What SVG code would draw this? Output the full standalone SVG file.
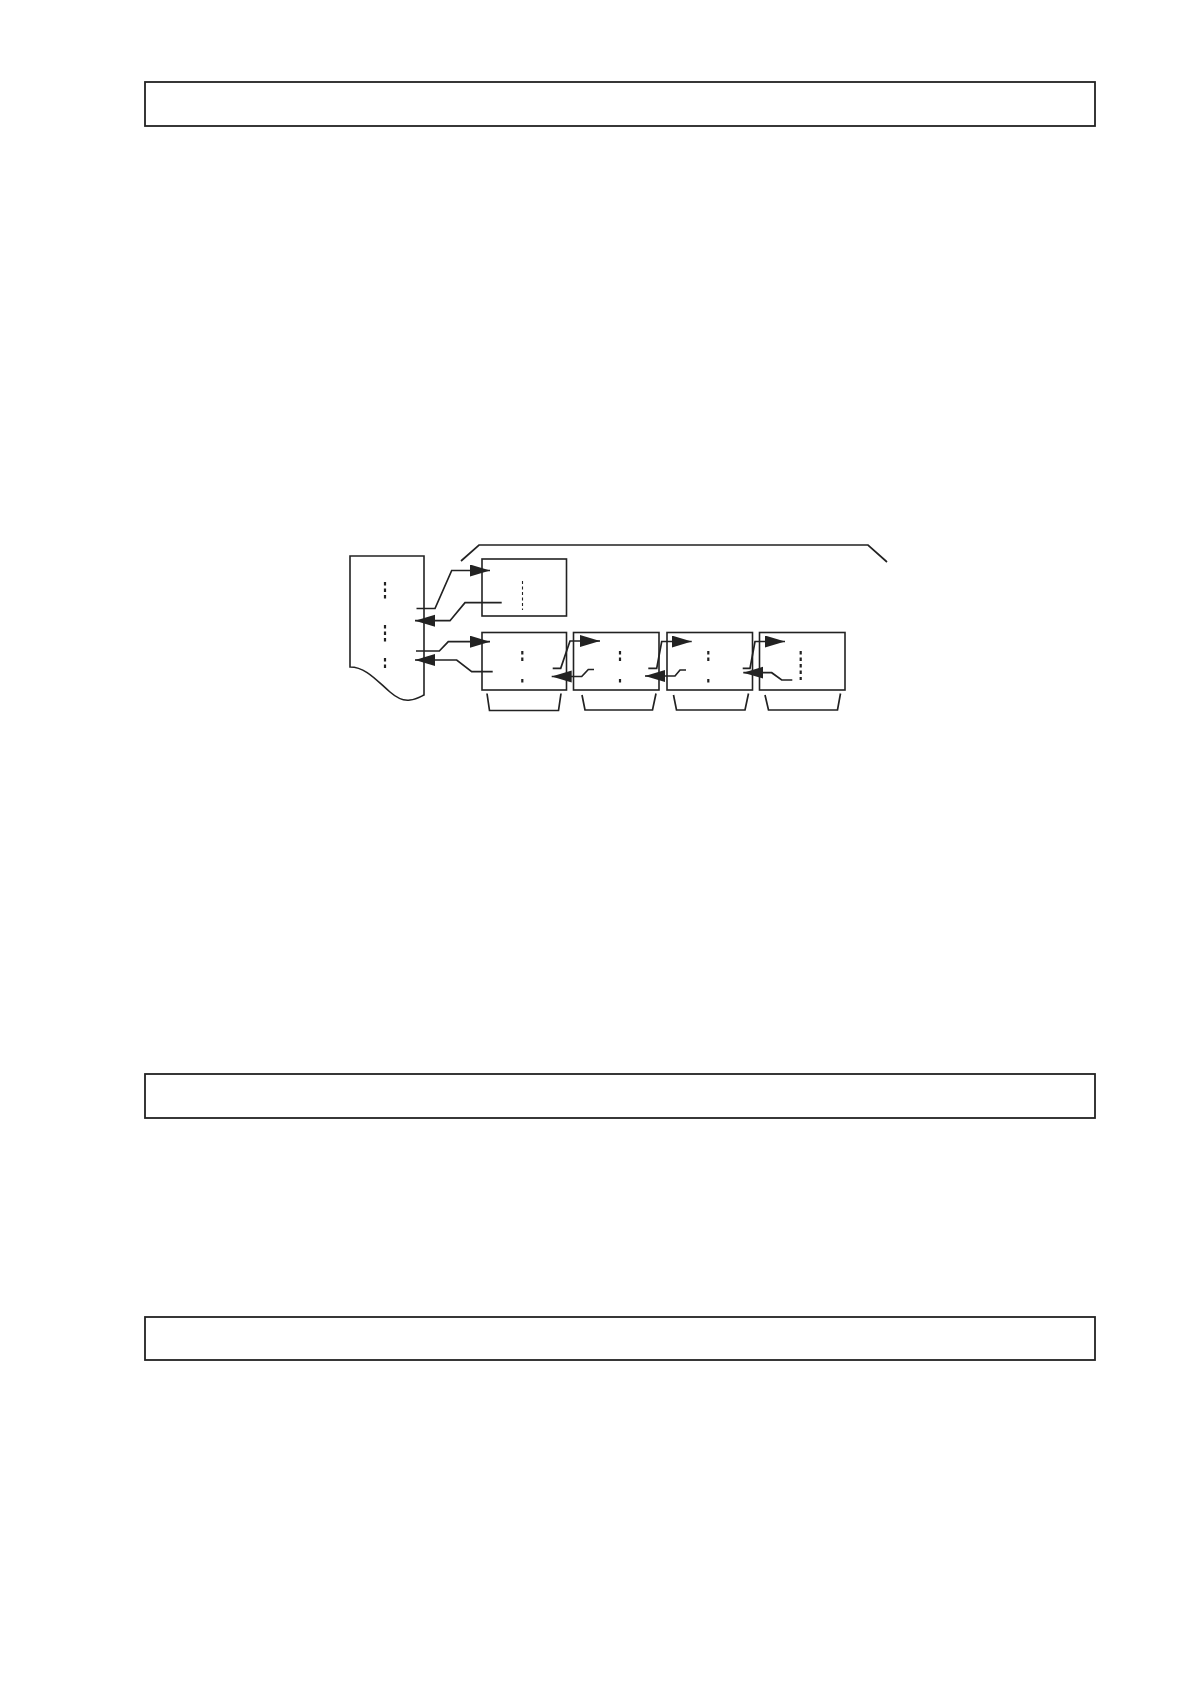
<svg xmlns="http://www.w3.org/2000/svg" width="1190" height="1684" viewBox="0 0 1190 1684">
<defs>
<style>
.hdr{fill:none;stroke:#222;stroke-width:1.8}
.box{fill:none;stroke:#222;stroke-width:1.6}
.ln{fill:none;stroke:#222;stroke-width:1.7;stroke-linejoin:miter}
.dots{fill:none;stroke:#222;stroke-width:2.2;stroke-dasharray:3.5 3}
.thin{fill:none;stroke:#222;stroke-width:1.1;stroke-dasharray:3 2.5}
.arr{marker-end:url(#ah)}
</style>
<marker id="ah" markerUnits="userSpaceOnUse" markerWidth="22" markerHeight="13" refX="20" refY="6" orient="auto">
<path d="M0,0 L20,6 L0,12 Z" fill="#222"/>
</marker>
</defs>
<rect width="1190" height="1684" fill="#fff"/>
<g id="header1"><rect class="hdr" x="145" y="82" width="950" height="44"/></g>
<g id="header2"><rect class="hdr" x="145" y="1074" width="950" height="44"/></g>
<g id="header3"><rect class="hdr" x="145" y="1317" width="950" height="43"/></g>

<g id="table">
<path class="box" d="M350,556 H424 V695 C420,697 416,699.5 410,700 C404,701 398,699 390,692 C377,681 366,667 350,667 Z"/>
<line class="dots" x1="385" y1="582" x2="385" y2="600"/>
<line class="dots" x1="385" y1="625" x2="385" y2="642"/>
<line class="dots" x1="385" y1="658" x2="385" y2="670"/>
</g>

<g id="bracket-top"><polyline class="ln" points="461,561 479,545 868,545 887,562"/></g>

<g id="upper-box">
<rect class="box" x="482" y="559" width="84.5" height="57"/>
<line class="thin" x1="522.5" y1="581" x2="522.5" y2="610"/>
</g>

<g id="box1">
<rect class="box" x="482" y="632.5" width="84.5" height="57.5"/>
<line class="dots" x1="522.3" y1="651" x2="522.3" y2="661"/>
<line class="dots" x1="522.3" y1="679" x2="522.3" y2="682.5" style="stroke-dasharray:none"/>
<polyline class="ln" points="487,693.5 489.5,710.5 558.5,710.5 561,693.5"/>
</g>
<g id="box2">
<rect class="box" x="573.5" y="632.5" width="85.5" height="57.5"/>
<line class="dots" x1="620" y1="651" x2="620" y2="661"/>
<line class="dots" x1="620" y1="679" x2="620" y2="682.5" style="stroke-dasharray:none"/>
<polyline class="ln" points="582,695 585,710 652.5,710 656,693.5"/>
</g>
<g id="box3">
<rect class="box" x="667" y="632.5" width="85.5" height="57.5"/>
<line class="dots" x1="708.3" y1="651" x2="708.3" y2="661"/>
<line class="dots" x1="708.3" y1="679" x2="708.3" y2="682.5" style="stroke-dasharray:none"/>
<polyline class="ln" points="673.5,695 676.5,710 745,710 748.5,693.5"/>
</g>
<g id="box4">
<rect class="box" x="759.5" y="632.5" width="85.5" height="57.5"/>
<line class="dots" x1="800.7" y1="651" x2="800.7" y2="680"/>
<polyline class="ln" points="765,695 768.5,710 837.5,710 840.5,693.5"/>
</g>

<g id="connectors">
<polyline class="ln arr" points="416.5,608.5 435,608.5 451.7,570.5 490,570.5"/>
<polyline class="ln arr" points="501.7,602.7 465,602.7 450,620.7 415,620.7"/>
<polyline class="ln arr" points="416,651 439.3,651 448.3,641.7 490,641.7"/>
<polyline class="ln arr" points="492.7,671.7 471.7,671.7 456.7,660 415,660"/>
<polyline class="ln arr" points="552.7,668.3 560.7,668.3 570,641 600,641"/>
<polyline class="ln arr" points="594,669.5 588.3,669.5 581.7,676.5 551.7,676.5"/>
<polyline class="ln arr" points="648.3,668.3 656.7,668.3 661.7,641.5 691.7,641.5"/>
<polyline class="ln arr" points="686,670 680,670 675,676 645,676"/>
<polyline class="ln arr" points="742.7,668.3 750,668.3 755,641.5 785,641.5"/>
<polyline class="ln arr" points="792.3,680 781.7,680 771.7,672.7 743.3,672.7"/>
</g>
</svg>
